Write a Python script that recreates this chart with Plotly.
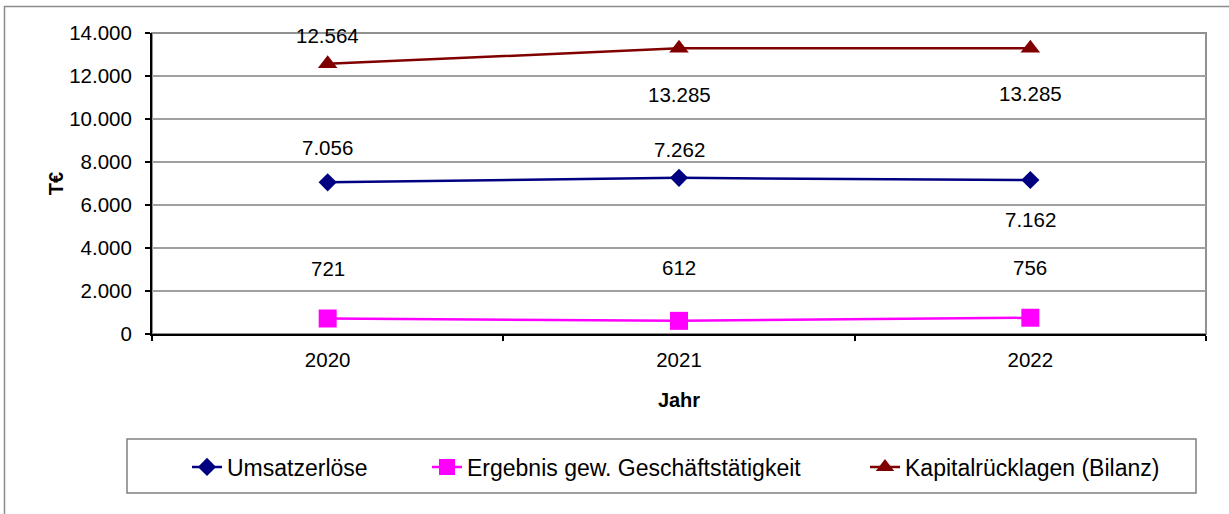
import plotly.graph_objects as go

years = ['2020', '2021', '2022']
umsatz = [7056, 7262, 7162]
ergebnis = [721, 612, 756]
kapital = [12564, 13285, 13285]
names = ['Umsatzerlöse', 'Ergebnis gew. Geschäftstätigkeit', 'Kapitalrücklagen (Bilanz)']

# label offsets in px (positive = above marker)
shift_umsatz = [35, 28, -39]
shift_ergebnis = [50, 53, 50]
shift_kapital = [28, -46, -45]

FONT = 'Liberation Sans, Arial, sans-serif'
W, H = 1229, 514
L, R, T, B = 152, 23, 33, 180
PW, PH = W - L - R, H - T - B


def px_x(x):
    return (x - L) / PW


def px_y(y):
    return (H - B - y) / PH


def fmt(v):
    return f'{v:,}'.replace(',', '.')


fig = go.Figure()
series = [
    (umsatz, names[0], '#000080', 'diamond', 14, shift_umsatz, 'legend'),
    (ergebnis, names[1], '#FF00FF', 'square', 18, shift_ergebnis, 'legend2'),
    (kapital, names[2], '#800000', 'triangle-up', 17, shift_kapital, 'legend3'),
]
for vals, name, color, symbol, size, shifts, leg in series:
    fig.add_trace(go.Scatter(
        x=years, y=vals, name=name, mode='lines+markers',
        line=dict(color=color, width=2.5),
        marker=dict(symbol=symbol, size=size, color=color),
        legend=leg, showlegend=True, cliponaxis=False,
    ))
    for i, (v, s) in enumerate(zip(vals, shifts)):
        fig.add_annotation(xref='x', yref='y', x=i, y=v, text=fmt(v),
                           showarrow=False, yshift=s,
                           font=dict(family=FONT, size=20.5, color='black'))

legend_style = dict(orientation='h', yanchor='middle', y=px_y(467), xanchor='left',
                    bgcolor='rgba(0,0,0,0)', borderwidth=0,
                    font=dict(family=FONT, size=23, color='black'))

fig.update_layout(
    width=W, height=H,
    margin=dict(l=L, r=R, t=T, b=B),
    paper_bgcolor='white', plot_bgcolor='white',
    separators=',.',
    showlegend=True,
    font=dict(family=FONT, size=20.5, color='black'),
    legend=dict(x=px_x(187), **legend_style),
    legend2=dict(x=px_x(427), **legend_style),
    legend3=dict(x=px_x(865), **legend_style),
    xaxis=dict(
        type='category', range=[-0.5, 2.5], tickson='boundaries',
        ticks='outside', ticklen=5, tickcolor='black', tickwidth=1.5,
        showline=True, linecolor='black', linewidth=2, showgrid=False,
        ticklabelstandoff=6,
        title=dict(text='<b>Jahr</b>', standoff=23, font=dict(size=20)),
    ),
    yaxis=dict(
        range=[0, 14000], dtick=2000, tickformat=',.0f',
        ticks='outside', ticklen=5, tickcolor='black', tickwidth=1.5,
        showline=True, linecolor='black', linewidth=2,
        showgrid=True, gridcolor='#a0a0a0', gridwidth=2, zeroline=False,
        ticklabelstandoff=9,
        title=dict(text='<b>T€</b>', standoff=0, font=dict(size=20)),
    ),
)

# plot area border (top / right)
fig.add_shape(type='rect', xref='paper', yref='paper', x0=0, x1=1, y0=0, y1=1,
              line=dict(color='#909090', width=2), layer='below')
# outer chart border
fig.add_shape(type='rect', xref='paper', yref='paper',
              x0=px_x(4.5), x1=px_x(1300), y0=px_y(600), y1=px_y(6.5),
              line=dict(color='#8c8c8c', width=1.5))
# legend box
fig.add_shape(type='rect', xref='paper', yref='paper',
              x0=px_x(127), x1=px_x(1196), y0=px_y(493), y1=px_y(439),
              line=dict(color='#808080', width=1.5))

fig.write_html('out.html', config={'displayModeBar': False},
               post_script="document.body.style.margin='0';")
